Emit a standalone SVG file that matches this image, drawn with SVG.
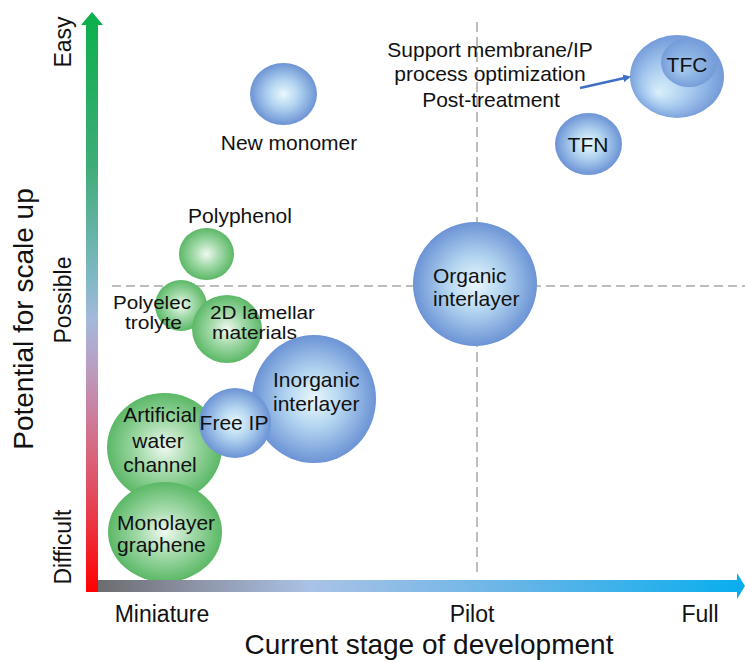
<svg xmlns="http://www.w3.org/2000/svg" width="745" height="662" viewBox="0 0 745 662">
<defs>
<style>
text{font-family:"Liberation Sans",Arial,sans-serif;fill:#111;}
.lb{font-size:21px;}
.sm{font-size:17.5px;}
.tk{font-size:23px;}
.ttl{font-size:28px;}
.dash{stroke:#a8a8a8;stroke-width:1.5;fill:none;}
</style>
<radialGradient id="gB" cx="0.5" cy="0.5" r="0.5">
<stop offset="0" stop-color="#eaf8fd"/>
<stop offset="0.45" stop-color="#b2d4f0"/>
<stop offset="1" stop-color="#6c93d5"/>
</radialGradient>
<radialGradient id="gG" cx="0.5" cy="0.5" r="0.5">
<stop offset="0" stop-color="#f0f9f1"/>
<stop offset="0.45" stop-color="#a6dbac"/>
<stop offset="1" stop-color="#5bb866"/>
</radialGradient>
<radialGradient id="gT" cx="0.5" cy="0.5" r="0.55" fx="0.3" fy="0.7">
<stop offset="0" stop-color="#d8f0fb"/>
<stop offset="0.5" stop-color="#a4c7ee"/>
<stop offset="1" stop-color="#6c93d5"/>
</radialGradient>
<radialGradient id="gTi" cx="0.5" cy="0.5" r="0.55" fx="0.35" fy="0.65">
<stop offset="0" stop-color="#a8ccef"/>
<stop offset="1" stop-color="#6f97d7"/>
</radialGradient>
<linearGradient id="gY" x1="0" y1="0" x2="0" y2="1">
<stop offset="0" stop-color="#0db04d"/>
<stop offset="0.25" stop-color="#3fac78"/>
<stop offset="0.45" stop-color="#80b8c6"/>
<stop offset="0.52" stop-color="#a4b8dc"/>
<stop offset="0.58" stop-color="#b4a6cc"/>
<stop offset="0.7" stop-color="#cf7a98"/>
<stop offset="0.85" stop-color="#e64252"/>
<stop offset="1" stop-color="#ff0000"/>
</linearGradient>
<linearGradient id="gX" x1="0" y1="0" x2="1" y2="0">
<stop offset="0" stop-color="#6c6c70"/>
<stop offset="0.15" stop-color="#8d93a6"/>
<stop offset="0.33" stop-color="#aac2e6"/>
<stop offset="0.65" stop-color="#67b5e7"/>
<stop offset="1" stop-color="#0aaeee"/>
</linearGradient>
<marker id="arr" markerWidth="8" markerHeight="8" refX="6" refY="4" orient="auto" markerUnits="userSpaceOnUse">
<path d="M0,0 L8,4 L0,8 Z" fill="#3f6fc4"/>
</marker>
</defs>
<rect width="745" height="662" fill="#ffffff"/>

<g id="guides">
<line class="dash" x1="112" y1="286" x2="745" y2="286" stroke-dasharray="9 5"/>
<line class="dash" x1="477" y1="22" x2="477" y2="576" stroke-dasharray="10 5"/>
</g>

<g id="axes">
<rect x="86" y="23" width="12" height="569" fill="url(#gY)"/>
<polygon points="81,25 92,12 103,25" fill="#0db04d"/>
<text class="tk" transform="translate(71,42) rotate(-90)" text-anchor="middle" font-size="22">Easy</text>
<text class="tk" transform="translate(71,300) rotate(-90)" text-anchor="middle" font-size="22">Possible</text>
<text class="tk" transform="translate(71,547) rotate(-90)" text-anchor="middle" font-size="22">Difficult</text>
<text class="ttl" transform="translate(33,319) rotate(-90)" text-anchor="middle">Potential for scale up</text>
<text class="tk" x="162" y="622" text-anchor="middle">Miniature</text>
<text class="tk" x="472" y="622" text-anchor="middle">Pilot</text>
<text class="tk" x="700" y="622" text-anchor="middle">Full</text>
<text class="ttl" x="429" y="654" text-anchor="middle">Current stage of development</text>
</g>

<g id="new-monomer">
<ellipse cx="283.5" cy="94" rx="33.5" ry="31" fill="url(#gB)"/>
<text class="lb" x="289" y="150" text-anchor="middle">New monomer</text>
</g>

<g id="tfc">
<ellipse cx="677" cy="76.5" rx="47" ry="41.5" fill="url(#gT)"/>
<ellipse cx="689" cy="62.5" rx="28" ry="24.5" fill="url(#gTi)"/>
<text class="lb" x="687" y="72" text-anchor="middle">TFC</text>
</g>

<g id="tfn">
<ellipse cx="588.5" cy="144" rx="33.5" ry="31" fill="url(#gB)"/>
<text class="lb" x="588" y="152" text-anchor="middle">TFN</text>
</g>

<g id="tfc-note">
<text class="lb" x="490" y="57" text-anchor="middle">Support membrane/IP</text>
<text class="lb" x="490" y="81" text-anchor="middle">process optimization</text>
<text class="lb" x="491" y="107" text-anchor="middle">Post-treatment</text>
</g>

<g id="polyphenol">
<ellipse cx="206.5" cy="254" rx="27.5" ry="26" fill="url(#gG)"/>
<text class="lb" x="240" y="223" text-anchor="middle">Polyphenol</text>
</g>

<g id="polyelectrolyte">
<ellipse cx="181" cy="305.5" rx="26" ry="25.5" fill="url(#gG)"/>
<text class="sm" x="113" y="309" textLength="78" lengthAdjust="spacingAndGlyphs">Polyelec</text>
<text class="sm" x="125" y="329" textLength="57" lengthAdjust="spacingAndGlyphs">trolyte</text>
</g>

<g id="lamellar-2d">
<ellipse cx="227" cy="329" rx="35" ry="34" fill="url(#gG)"/>
<text class="sm" x="210" y="319" textLength="105" lengthAdjust="spacingAndGlyphs">2D lamellar</text>
<text class="sm" x="212" y="339" textLength="85" lengthAdjust="spacingAndGlyphs">materials</text>
</g>

<g id="organic-interlayer">
<ellipse cx="475" cy="284" rx="62" ry="62" fill="url(#gB)"/>
<text class="lb" x="433" y="283">Organic</text>
<text class="lb" x="433" y="306">interlayer</text>
</g>

<g id="inorganic-interlayer">
<ellipse cx="314" cy="399" rx="62" ry="64" fill="url(#gB)"/>
<text class="lb" x="273" y="387">Inorganic</text>
<text class="lb" x="273" y="411">interlayer</text>
</g>

<g id="artificial-water-channel">
<ellipse cx="164.5" cy="447.5" rx="57.5" ry="54.5" fill="url(#gG)"/>
<text class="lb" x="160" y="422" text-anchor="middle">Artificial</text>
<text class="lb" x="158" y="448" text-anchor="middle">water</text>
<text class="lb" x="160" y="472" text-anchor="middle">channel</text>
</g>

<g id="free-ip">
<ellipse cx="235" cy="423" rx="36" ry="35" fill="url(#gB)"/>
<text class="lb" x="234" y="430" text-anchor="middle">Free IP</text>
</g>

<g id="monolayer-graphene">
<ellipse cx="165" cy="532" rx="57" ry="50" fill="url(#gG)"/>
<text class="lb" x="117" y="530">Monolayer</text>
<text class="lb" x="117" y="552">graphene</text>
</g>

<g id="connectors">
<line x1="580" y1="88" x2="629" y2="77" stroke="#3f6fc4" stroke-width="2.5" marker-end="url(#arr)"/>
</g>

<g id="x-axis">
<rect x="98" y="580" width="640" height="12" fill="url(#gX)"/>
<polygon points="737,573 745,586 737,599" fill="#0aaeee"/>
</g>
</svg>
